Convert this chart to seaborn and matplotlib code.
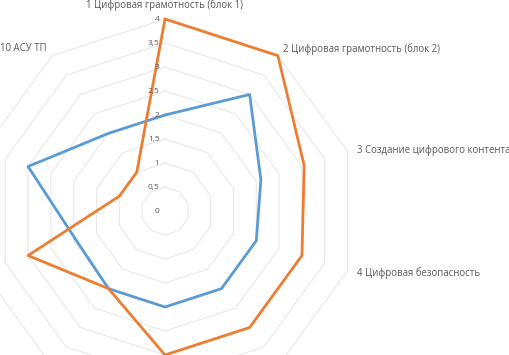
import numpy as np
import pandas as pd
import matplotlib
matplotlib.use("Agg")
import matplotlib.pyplot as plt
import matplotlib.transforms as mtransforms
import seaborn as sns

categories = ["1 Цифровая грамотность (блок 1)", "2 Цифровая грамотность (блок 2)",
              "3 Создание цифрового контента", "4 Цифровая безопасность",
              "", "", "", "", "", "10 АСУ ТП"]
series_blue = [2.0, 3.0, 2.1, 2.0, 2.0, 2.0, 2.0, 1.95, 3.0, 2.0]
series_orange = [4.0, 4.0, 3.05, 3.0, 3.0, 3.0, 2.0, 3.0, 1.0, 1.0]
tick_values = [0, 0.5, 1, 1.5, 2, 2.5, 3, 3.5, 4]
tick_labels = ["0", "0,5", "1", "1,5", "2", "2,5", "3", "3,5", "4"]

sns.set_style("white")
plt.rcParams["font.family"] = ["Open Sans", "DejaVu Sans"]

W, H = 510, 355
fig = plt.figure(figsize=(W / 100, H / 100), dpi=100)
cx, cy, R = 165, 211, 192
ax = fig.add_axes([(cx - R) / W, (H - cy - R) / H, 2 * R / W, 2 * R / H], projection="polar")
ax.set_theta_zero_location("N")
ax.set_theta_direction(-1)
ax.set_ylim(0, 4)
ax.grid(False)
ax.set_xticks([])
ax.set_yticks([])
ax.spines["polar"].set_visible(False)
ax.patch.set_alpha(0)

n = len(categories)
theta = np.arange(n) * 2 * np.pi / n
theta_closed = np.append(theta, theta[0] + 2 * np.pi)

# polygon gridlines
for lv in tick_values[1:]:
    ax.plot(theta_closed, [lv] * (n + 1), color="#E8E8E8", lw=0.8, clip_on=False, zorder=1)

rows = []
for name, vals in [("blue", series_blue), ("orange", series_orange)]:
    closed = list(vals) + [vals[0]]
    for t, v in zip(theta_closed, closed):
        rows.append({"theta": t, "value": v, "series": name})
df = pd.DataFrame(rows)
sns.lineplot(data=df, x="theta", y="value", hue="series", sort=False, estimator=None,
             palette={"blue": "#5B9BD5", "orange": "#ED7D31"}, lw=2.0, ax=ax,
             legend=False, zorder=3)
for line in ax.lines:
    line.set_clip_on(False)
ax.set_xlabel("")
ax.set_ylabel("")
ax.set_ylim(0, 4)

# tick labels along axis 1
for v, lab in zip(tick_values, tick_labels):
    tr = ax.transData + mtransforms.ScaledTranslation(-4 / 72, 0, fig.dpi_scale_trans)
    ax.text(0, v, lab, transform=tr, ha="right", va="center", fontsize=6, color="#595959")

# category labels
offsets = {0: (0, 10, "center"), 1: (4, 5, "left"), 2: (6.5, 1, "left"), 3: (6.5, -2, "left"),
           4: (4, -8, "left"), 5: (0, -10, "center"), 6: (-4, -8, "right"),
           7: (-7, -2, "right"), 8: (-7, 1, "right"), 9: (-4, 5, "right")}
for i, lab in enumerate(categories):
    if not lab:
        continue
    dx, dy, ha = offsets[i]
    tr = ax.transData + mtransforms.ScaledTranslation(dx / 72, dy / 72, fig.dpi_scale_trans)
    ax.text(theta[i], 4, lab, transform=tr, ha=ha, va="center", fontsize=6.9, color="#595959",
            clip_on=False)

fig.savefig("out.png", dpi=100)
